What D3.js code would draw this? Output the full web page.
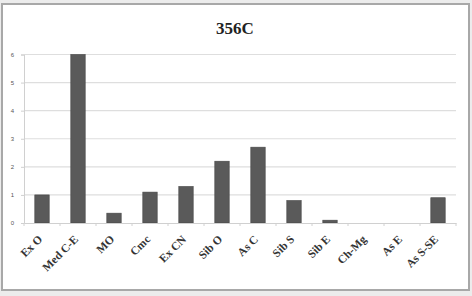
<!DOCTYPE html>
<html><head><meta charset="utf-8">
<script src="https://cdn.jsdelivr.net/npm/d3@7"></script>
<style>body{margin:0;background:#fff;}svg{display:block;}</style>
</head><body>
<script>
const title = "356C";
const categories = ["Ex O","Med C-E","MO","Cmc","Ex CN","Sib O","As C","Sib S","Sib E","Ch-Mg","As E","As S-SE"];
const values = [1.0, 6.0, 0.35, 1.1, 1.3, 2.2, 2.7, 0.8, 0.1, 0, 0, 0.9];
const yTicks = [0,1,2,3,4,5,6];

const W = 472, H = 296;
const svg = d3.select("body").append("svg").attr("width", W).attr("height", H);
svg.append("rect").attr("x",0).attr("y",0).attr("width",W).attr("height",H).attr("fill","#ececec");
svg.append("rect").attr("x",2).attr("y",4).attr("width",467).attr("height",286)
  .attr("fill","#fff").attr("stroke","#a8a8a8").attr("stroke-width",2);

const m = {left:24, right:16, top:54.5, bottom:73};
const x = d3.scaleBand().domain(categories).range([m.left, W - m.right]).paddingInner(0.6).paddingOuter(0.3);
const xb = d3.scaleBand().domain(categories).range([m.left, W - m.right]);
const y = d3.scaleLinear().domain([0,6]).range([H - m.bottom, m.top]);

svg.append("text").attr("x",235).attr("y",34).attr("text-anchor","middle")
  .attr("font-family","Liberation Serif, serif").attr("font-weight","bold").attr("font-size",17)
  .attr("fill","#222").text(title);

svg.append("g").selectAll("line").data(yTicks.filter(d=>d>0)).join("line")
  .attr("x1", m.left).attr("x2", W - m.right)
  .attr("y1", d=>y(d)).attr("y2", d=>y(d)).attr("stroke","#dedede").attr("stroke-width",1.2);

const ya = svg.append("g").attr("transform",`translate(${m.left},0)`)
  .call(d3.axisLeft(y).tickValues(yTicks).tickSize(3).tickFormat(d3.format("d")));
ya.select(".domain").attr("stroke","#d0d0d0");
ya.selectAll(".tick line").attr("stroke","#d0d0d0");
ya.selectAll("text").attr("font-family","Liberation Sans, sans-serif").attr("font-size",6).attr("fill","#555").attr("x",-10);

svg.append("g").selectAll("rect").data(values).join("rect")
  .attr("x",(d,i)=>x(categories[i])).attr("width",x.bandwidth())
  .attr("y",d=>y(d)).attr("height",d=>y(0)-y(d))
  .attr("fill","#5a5a5a").attr("stroke","#444").attr("stroke-width",0.6);

const xa = svg.append("g").attr("transform",`translate(0,${y(0)})`)
  .call(d3.axisBottom(xb).tickSize(0).tickFormat(""));
xa.select(".domain").attr("stroke","#d0d0d0");
svg.append("g").selectAll("line").data(d3.range(categories.length+1)).join("line")
  .attr("x1",i=>m.left + i*xb.step()).attr("x2",i=>m.left + i*xb.step())
  .attr("y1",y(0)).attr("y2",y(0)+3).attr("stroke","#d0d0d0");

// rotated labels along diagonal paths
const defs = svg.append("defs");
const L = 80;
categories.forEach((c,i)=>{
  const px = xb(c)+xb.bandwidth()/2+1, py = y(0)+17;
  defs.append("path").attr("id","lp"+i)
    .attr("d",`M${px - L*Math.SQRT1_2},${py + L*Math.SQRT1_2}L${px},${py}`);
});
svg.append("g").selectAll("text").data(categories).join("text")
  .attr("font-family","Liberation Serif, serif").attr("font-weight","bold").attr("font-size",11.5).attr("fill","#333")
  .append("textPath")
  .attr("href",(d,i)=>"#lp"+i)
  .attr("startOffset","100%").attr("text-anchor","end")
  .text(d=>d);
</script>
</body></html>
